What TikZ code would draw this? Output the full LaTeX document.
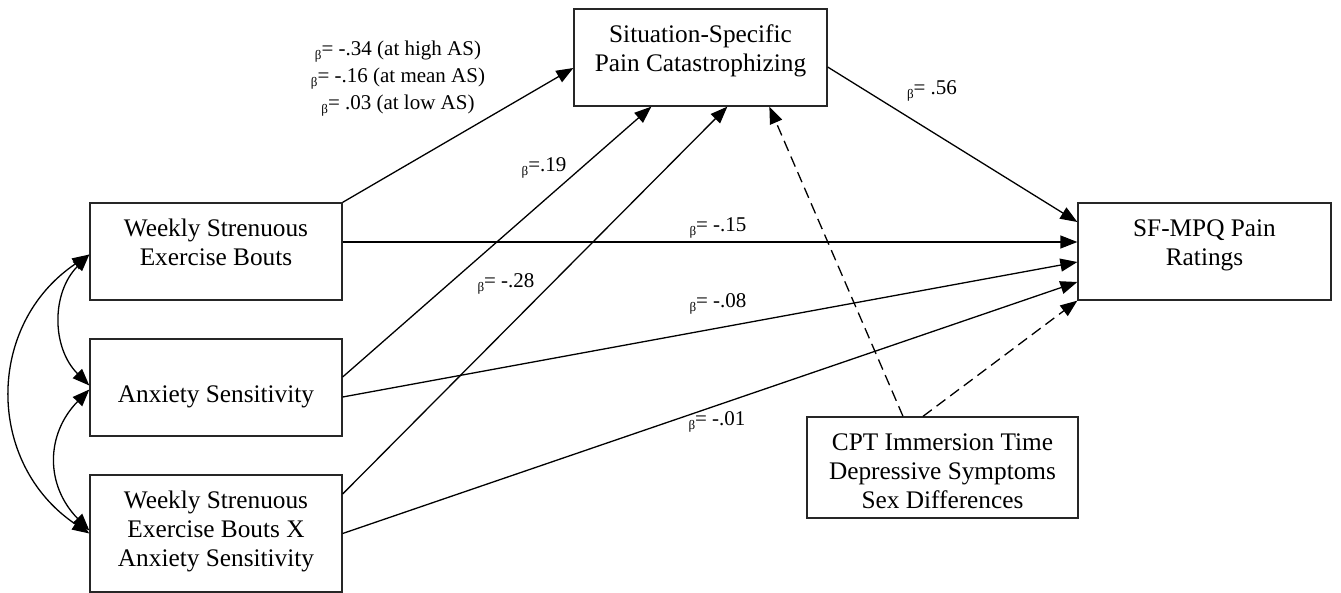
\documentclass[tikz,border=0pt]{standalone}
\usepackage{fontspec}
\setmainfont{Liberation Serif}
\usetikzlibrary{arrows.meta,calc}
% small lowered beta used in the path coefficients
\newcommand\bsym{\raisebox{-4pt}{\fontsize{13}{13}\selectfont β}}

\begin{document}
\begin{tikzpicture}[x=1pt,y=-1pt,
  frame/.style={draw=black!85, line width=1.3pt, inner sep=0pt},
  boxtext/.style={align=center, inner sep=0pt, text depth=0pt, font=\fontsize{25.3}{29}\selectfont},
  coef/.style={inner sep=0pt, font=\fontsize{21}{27}\selectfont},
  link/.style={line width=1.3pt, -{Triangle[length=17pt,width=13pt]}},
  dlink/.style={link, dash pattern=on 11pt off 6pt},
  cov/.style={line width=1.3pt, {Triangle[length=17pt,width=13pt]}-{Triangle[length=17pt,width=13pt]}}]

\useasboundingbox (0,0) rectangle (1341,593);

% boxes
\node[frame, minimum width=252, minimum height=97] (A) at (216,251.5) {};
\node[frame, minimum width=252, minimum height=97] (B) at (216,387.5) {};
\node[frame, minimum width=252, minimum height=117] (C) at (216,533.5) {};
\node[frame, minimum width=253, minimum height=97] (T) at (700.5,57.5) {};
\node[frame, minimum width=253, minimum height=97] (S) at (1204.5,251.5) {};
\node[frame, minimum width=271, minimum height=101] (P) at (942.5,467.5) {};

% box texts
\node[boxtext] (At) at (216,242.5) {Weekly Strenuous\\Exercise Bouts};
\node[boxtext] (Bt) at (216,393.7) {Anxiety Sensitivity};
\node[boxtext] (Ct) at (216,528.5) {Weekly Strenuous\\Exercise Bouts X\\Anxiety Sensitivity};
\node[boxtext] (Tt) at (700.5,48.5) {Situation-Specific\\Pain Catastrophizing};
\node[boxtext] (St) at (1204.5,242.5) {SF-MPQ Pain\\Ratings};
\node[boxtext] (Pt) at (942.5,471.5) {CPT Immersion Time\\Depressive Symptoms\\Sex Differences};

% directed paths
\draw[link] (A.north east) -- ([yshift=-10.5]T.west);
\draw[link] ([yshift=9.5]A.east) -- ([yshift=9.5]S.west);
\draw[link] ([yshift=10.5]B.east) -- ([xshift=78]T.south west);
\draw[link] ([yshift=-9.5]B.east) -- ([yshift=-10.5]S.west);
\draw[link] ([yshift=39.5]C.east) -- ([xshift=154]T.south west);
\draw[link] (C.east) -- ([yshift=-30.5]S.west);
\draw[link] ([yshift=-9.5]T.east) -- ([yshift=29.5]S.west);

% covariates
\draw[dlink] ([xshift=-39.5]P.north) -- ([xshift=196]T.south west);
\draw[dlink] ([xshift=-19.5]P.north) -- (S.south west);

% correlations among predictors
\draw[cov] ([yshift=-3]A.west) .. controls +(-38,38) and +(-38,-38) .. ([yshift=2]B.west);
\draw[cov] ([yshift=-2]B.west) .. controls +(-44,45) and +(-44,-45) .. ([yshift=3]C.west);
\draw[cov] ([yshift=-3]A.west) .. controls +(-104,70) and +(-104,-70) .. (C.west);

% coefficients
\node[coef, anchor=north, align=center] (l1) at (398,40.5)
  {\bsym= -.34 (at high AS)\\\bsym= -.16 (at mean AS)\\\bsym= .03 (at low AS)};
\node[coef, anchor=base] (l2) at (544,172) {\bsym=.19};
\node[coef, anchor=base] (l3) at (718,232) {\bsym= -.15};
\node[coef, anchor=base] (l4) at (506,288) {\bsym= -.28};
\node[coef, anchor=base] (l5) at (718,308) {\bsym= -.08};
\node[coef, anchor=base] (l6) at (932,95) {\bsym= .56};
\node[coef, anchor=base] (l7) at (717,425) {\bsym= -.01};

\end{tikzpicture}
\end{document}
